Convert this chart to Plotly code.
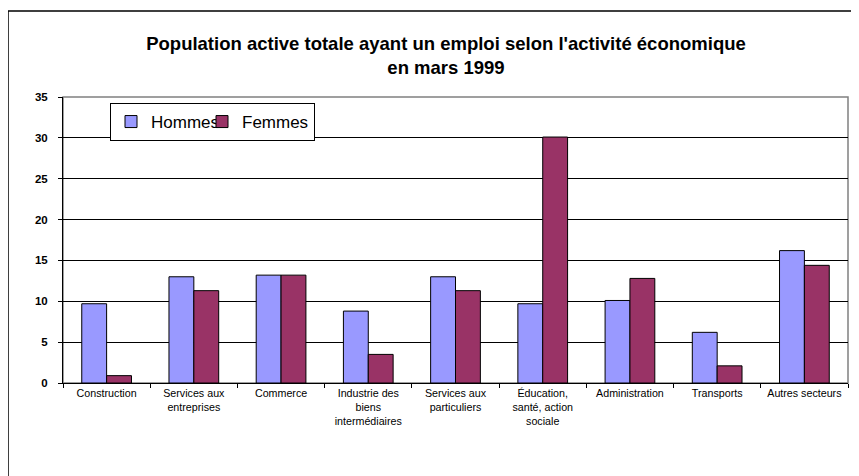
import plotly.graph_objects as go

# secteurs d'activité (libellés sur plusieurs lignes comme dans l'original)
categories = [
    "Construction",
    "Services aux<br>entreprises",
    "Commerce",
    "Industrie des<br>biens<br>intermédiaires",
    "Services aux<br>particuliers",
    "Éducation,<br>santé, action<br>sociale",
    "Administration",
    "Transports",
    "Autres secteurs",
]
hommes = [9.7, 13.0, 13.2, 8.8, 13.0, 9.7, 10.1, 6.2, 16.2]
femmes = [0.9, 11.3, 13.2, 3.5, 11.3, 30.1, 12.8, 2.1, 14.4]
y_ticks = [0, 5, 10, 15, 20, 25, 30, 35]

# la page html ajoute une marge de 8px : on décale tout en conséquence
L, T, PW, PH = 55, 89, 785, 286

fig = go.Figure()
fig.add_trace(go.Bar(x=categories, y=hommes, name="Hommes", legendwidth=46,
                     marker=dict(color="#9999FF", line=dict(color="black", width=1))))
fig.add_trace(go.Bar(x=categories, y=femmes, name="Femmes",
                     marker=dict(color="#993366", line=dict(color="black", width=1))))

fig.update_layout(
    width=859, height=476,
    margin=dict(l=L, r=859 - L - PW, t=T, b=476 - T - PH),
    paper_bgcolor="white", plot_bgcolor="white",
    font=dict(family="Arial, Liberation Sans, sans-serif", color="black"),
    title=dict(
        text="<b>Population active totale ayant un emploi selon l'activité économique<br>en mars 1999</b>",
        x=438 / 859, xanchor="center", y=1 - 42 / 476, yanchor="top",
        font=dict(size=18.5, family="Arial, Liberation Sans, sans-serif"),
    ),
    barmode="group", bargap=0.43, bargroupgap=0,
    legend=dict(
        orientation="h", x=(102 - L) / PW, y=1 - 6 / PH,
        xanchor="left", yanchor="top",
        bgcolor="white", bordercolor="black", borderwidth=1,
        font=dict(size=17), itemwidth=30, tracegroupgap=0,
    ),
    showlegend=True,
)

fig.update_yaxes(
    range=[0, 35], tickvals=y_ticks,
    showgrid=True, gridcolor="black", gridwidth=1,
    showline=True, linecolor="black", linewidth=1,
    ticks="outside", ticklen=4, tickcolor="black", ticklabelstandoff=8,
    tickfont=dict(size=11.5, weight="bold"),
    zeroline=False,
)
fig.update_xaxes(
    showline=True, linecolor="black", linewidth=1,
    ticks="outside", ticklen=4, tickcolor="black", tickson="boundaries",
    tickfont=dict(size=10.7), tickangle=0,
)

# cadre gris du graphique (haut et droite) et cadre noir extérieur
fig.add_shape(type="rect", xref="paper", yref="paper", x0=0, y0=0, x1=1, y1=1,
              line=dict(color="#808080", width=1.5), layer="below")
fig.add_shape(type="rect", xref="paper", yref="paper",
              x0=(0 - L) / PW, y0=-0.6, x1=1.2, y1=(T + PH - 3) / PH,
              line=dict(color="black", width=1.5))

fig.write_html("out.html")
